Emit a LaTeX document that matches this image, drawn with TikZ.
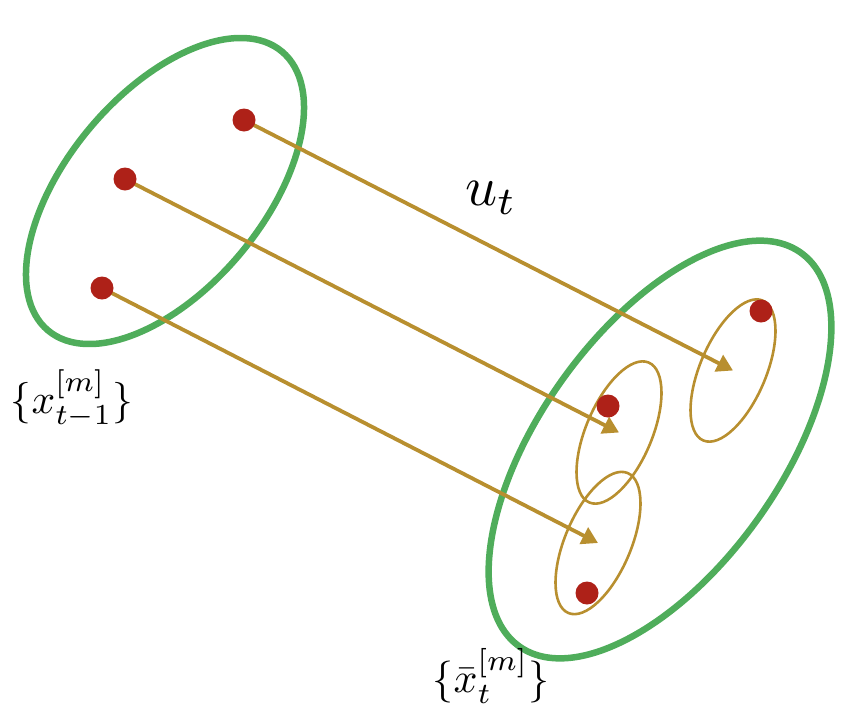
\documentclass[tikz,border=0pt]{standalone}
\usetikzlibrary{arrows.meta}
\definecolor{sgreen}{HTML}{4FAD5B}
\definecolor{sgold}{HTML}{B88F2F}
\definecolor{sred}{HTML}{AE2118}
\begin{document}
\begin{tikzpicture}[x=1pt,y=1pt,
  bigset/.style={draw=sgreen,line width=6.5pt},
  smallset/.style={draw=sgold,line width=2.6pt},
  particle/.style={circle,fill=sred,inner sep=0pt,minimum size=23pt},
  motion/.style={draw=sgold,line width=3.8pt,-{Triangle[length=16pt,width=18pt]}},
  lbl/.style={inner sep=0pt}]
\useasboundingbox (0,0) rectangle (858,-718);
% big sets
\draw[bigset,rotate around={50:(165,-191)}] (165,-191) ellipse [x radius=182, y radius=98];
\draw[bigset,rotate around={54.4:(660,-449.5)}] (660,-449.5) ellipse [x radius=242, y radius=120];
% small sets
\coordinate (ca) at (733,-370.5);
\coordinate (cb) at (619,-432.5);
\coordinate (cc) at (598,-543);
\draw[smallset,rotate around={67:(ca)}] (ca) ellipse [x radius=76, y radius=33];
\draw[smallset,rotate around={67:(cb)}] (cb) ellipse [x radius=76, y radius=33];
\draw[smallset,rotate around={67:(cc)}] (cc) ellipse [x radius=76, y radius=33];
% particle positions
\coordinate (p1) at (244,-120);
\coordinate (p2) at (125,-179);
\coordinate (p3) at (102,-288);
\draw[motion] (p1) -- (ca);
\draw[motion] (p2) -- (cb);
\draw[motion] (p3) -- (cc);
\node[particle] (d1) at (p1) {};
\node[particle] (d2) at (p2) {};
\node[particle] (d3) at (p3) {};
\node[particle] (e1) at (761,-311) {};
\node[particle] (e2) at (608,-406) {};
\node[particle] (e3) at (587,-593) {};
% labels
\node[lbl,scale=5.6] (u) at (491,-198) {$u_t$};
\node[lbl,scale=4.15] (lx) at (72,-399) {$\{x_{t-1}^{[m]}\}$};
\node[lbl,scale=4.2] (rx) at (491,-676) {$\{\bar{x}_{t}^{[m]}\}$};
\end{tikzpicture}
\end{document}
